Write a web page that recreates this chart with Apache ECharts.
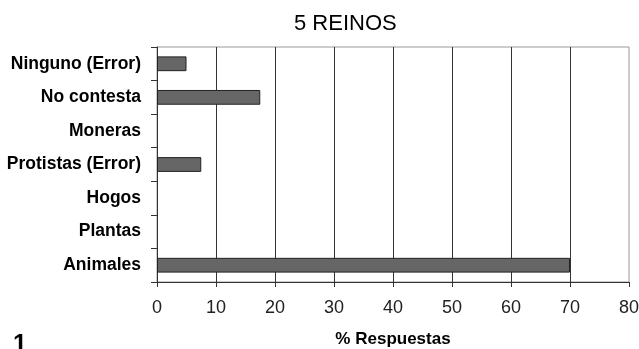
<!DOCTYPE html>
<html>
<head>
<meta charset="utf-8">
<script src="https://cdn.jsdelivr.net/npm/echarts@6/dist/echarts.min.js"></script>
<style>html,body{margin:0;padding:0;background:#fff}#c{width:639px;height:349px}</style>
</head>
<body>
<div id="c"></div>
<script>
const categories = ["Ninguno (Error)", "No contesta", "Moneras", "Protistas (Error)", "Hogos", "Plantas", "Animales"];
const values = [5, 17.5, 0, 7.5, 0, 0, 70];
const titleText = "5 REINOS";
const axisName = "% Respuestas";

const chart = echarts.init(document.getElementById('c'), null, {renderer: 'canvas'});
chart.setOption({
  animation: false,
  backgroundColor: '#fff',
  title: {
    text: titleText, left: 289, top: 8,
    textStyle: {fontFamily: 'Liberation Sans', fontSize: 22, fontWeight: 'normal', color: '#000'}
  },
  grid: {left: 157, right: 10, top: 47, bottom: 67, show: true, borderColor: '#999', borderWidth: 1,
         containLabel: false, outerBoundsMode: 'none'},
  xAxis: {
    type: 'value', min: 0, max: 80, interval: 10,
    name: axisName, nameLocation: 'middle', nameGap: 49,
    nameTextStyle: {fontFamily: 'Liberation Sans', fontSize: 17, fontWeight: 'bold', color: '#000'},
    axisLine: {show: true, lineStyle: {color: '#333', width: 1}},
    axisTick: {show: true, length: 5, lineStyle: {color: '#333'}},
    axisLabel: {margin: 17, fontFamily: '"Liberation Sans Narrow", "Liberation Sans"', fontSize: 18, color: '#222'},
    splitLine: {show: true, showMinLine: false, showMaxLine: false, lineStyle: {color: '#333', width: 1}}
  },
  yAxis: {
    type: 'category', data: categories, inverse: true,
    axisLine: {show: true, lineStyle: {color: '#333', width: 1}},
    axisTick: {show: true, length: 6, lineStyle: {color: '#333'}},
    axisLabel: {margin: 16, fontFamily: 'Liberation Sans', fontSize: 17.5, fontWeight: 'bold', color: '#000'},
    splitLine: {show: false}
  },
  series: [{
    type: 'bar', data: values.map(v => (v === 0 ? '-' : v)), barWidth: '44%',
    itemStyle: {color: '#666666', borderColor: '#222', borderWidth: 1}
  }],
  graphic: [{
    type: 'text', left: 13, top: 333,
    style: {text: '1', fontFamily: 'Liberation Sans', fontSize: 25, fontWeight: 'bold', fill: '#000'}
  }]
});
</script>
</body>
</html>
